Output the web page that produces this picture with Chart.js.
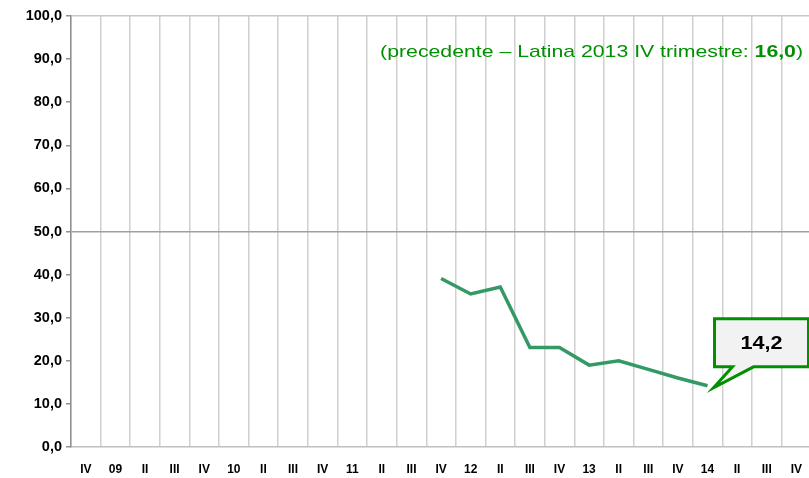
<!DOCTYPE html>
<html>
<head>
<meta charset="utf-8">
<script src="https://cdn.jsdelivr.net/npm/chart.js@4/dist/chart.umd.min.js"></script>
<style>
html,body{margin:0;padding:0;background:#fff;overflow:hidden;}
#wrap{position:relative;width:817px;height:478px;}
</style>
</head>
<body>
<div id="wrap"><canvas id="c" width="817" height="478"></canvas></div>
<script>
const categories = ["IV","09","II","III","IV","10","II","III","IV","11","II","III","IV","12","II","III","IV","13","II","III","IV","14","II","III","IV"];
const values = [null,null,null,null,null,null,null,null,null,null,null,null,39.1,35.5,37.1,23.1,23.1,19.0,20.0,18.0,16.0,14.2,null,null,null];
const yTicks = [0,10,20,30,40,50,60,70,80,90,100];
const previousLabel = "(precedente – Latina 2013 IV trimestre: ";
const previousValue = 16.0;
const lastIndex = 21;

const fmt = v => v.toFixed(1).replace('.', ',');

const overlay = {
  id: 'overlay',
  afterDraw(chart) {
    const ctx = chart.ctx;
    const xs = chart.scales.x, ys = chart.scales.y;
    const sx = 1.25;
    // annotation text (horizontally stretched like the reference)
    ctx.save();
    ctx.textBaseline = 'middle';
    ctx.fillStyle = '#009000';
    const f1 = '17px "Liberation Sans", Arial, sans-serif';
    const f2 = 'bold 17px "Liberation Sans", Arial, sans-serif';
    ctx.font = f1;
    const w1 = ctx.measureText(previousLabel).width;
    ctx.font = f2;
    const vtxt = fmt(previousValue);
    const w2 = ctx.measureText(vtxt).width;
    ctx.font = f1;
    const w3 = ctx.measureText(')').width;
    const right = 803, ty = 52;
    const total = (w1 + w2 + w3) * sx;
    ctx.translate(right - total, ty);
    ctx.scale(sx, 1);
    ctx.textAlign = 'left';
    ctx.fillText(previousLabel, 0, 0);
    ctx.font = f2;
    ctx.fillText(vtxt, w1, 0);
    ctx.font = f1;
    ctx.fillText(')', w1 + w2, 0);
    ctx.restore();

    // callout
    const px = xs.getPixelForValue(lastIndex);
    const py = ys.getPixelForValue(values[lastIndex]);
    const bx = px + 7, by = py - 67, bw = 94, bh = 48;
    ctx.save();
    ctx.beginPath();
    ctx.moveTo(bx, by);
    ctx.lineTo(bx + bw, by);
    ctx.lineTo(bx + bw, by + bh);
    ctx.lineTo(px + 46, by + bh);
    ctx.lineTo(px + 6, py + 2);
    ctx.lineTo(px + 25, by + bh);
    ctx.lineTo(bx, by + bh);
    ctx.closePath();
    ctx.fillStyle = '#f2f2f2';
    ctx.fill();
    ctx.lineWidth = 3;
    ctx.strokeStyle = '#009000';
    ctx.lineJoin = 'miter';
    ctx.stroke();
    ctx.fillStyle = '#000';
    ctx.font = 'bold 18px "Liberation Sans", Arial, sans-serif';
    ctx.textAlign = 'center';
    ctx.textBaseline = 'middle';
    ctx.translate(bx + bw / 2, by + bh / 2 + 1);
    ctx.scale(1.2, 1);
    ctx.fillText(fmt(values[lastIndex]), 0, 0);
    ctx.restore();
  }
};

new Chart(document.getElementById('c'), {
  type: 'line',
  data: {
    labels: categories,
    datasets: [{
      data: values,
      borderColor: '#339966',
      borderWidth: 3.5,
      pointRadius: 0,
      tension: 0,
      spanGaps: false,
      borderCapStyle: 'butt'
    }]
  },
  options: {
    responsive: false,
    animation: false,
    devicePixelRatio: 1,
    layout: { padding: { top: 16, left: 0, right: 0, bottom: 0 } },
    plugins: { legend: { display: false }, tooltip: { enabled: false } },
    scales: {
      x: {
        offset: true,
        grid: { offset: true, color: '#d0d0d0', lineWidth: 1.5, drawTicks: false },
        border: { color: '#c0c0c0', width: 1.5 },
        ticks: {
          color: '#000', padding: 15, maxRotation: 0, autoSkip: false,
          font: { family: '"Liberation Sans", Arial, sans-serif', size: 12, weight: 'bold' }
        },
        afterFit(s) { s.height = 31; }
      },
      y: {
        min: 0, max: 100,
        afterBuildTicks(s) { s.ticks = yTicks.map(v => ({ value: v })); },
        grid: {
          color: c => c.tick && c.tick.value === 50 ? '#a0a0a0' : (c.tick && c.tick.value === 100 ? '#c8c8c8' : 'rgba(0,0,0,0)'),
          lineWidth: 1.5,
          tickColor: '#909090',
          tickLength: 5
        },
        border: { color: '#909090', width: 1.5 },
        ticks: {
          color: '#000', padding: 4,
          font: { family: '"Liberation Sans", Arial, sans-serif', size: 14.5, weight: 'bold' },
          callback: v => fmt(v)
        },
        afterFit(s) { s.width = 71; }
      }
    }
  },
  plugins: [overlay]
});
</script>
</body>
</html>
